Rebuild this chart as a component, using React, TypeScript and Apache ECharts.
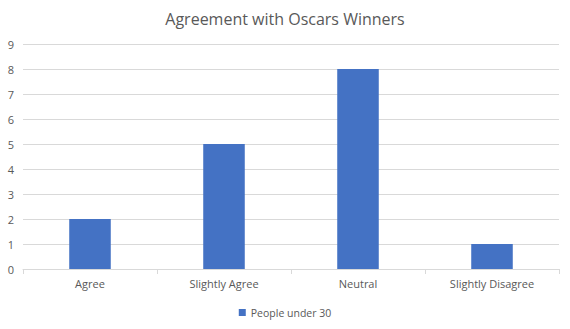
import React, { useEffect, useRef } from "react";
import * as echarts from "echarts";

const categories = ["Agree", "Slightly Agree", "Neutral", "Slightly Disagree"];
const peopleUnder30 = [2, 5, 8, 1];
const seriesName = "People under 30";
const titleText = "Agreement with Oscars Winners";

export default function App() {
  const ref = useRef<HTMLDivElement>(null);
  useEffect(() => {
    if (!ref.current) return;
    const chart = echarts.init(ref.current, null, { renderer: "svg" });
    const font = "Open Sans, Noto Sans, sans-serif";
    chart.setOption({
      animation: false,
      backgroundColor: "#ffffff",
      title: {
        text: titleText,
        left: "center",
        top: 6,
        textStyle: { color: "#595959", fontSize: 16, fontWeight: "normal", fontFamily: font },
      },
      legend: {
        bottom: 6,
        left: "center",
        icon: "rect",
        itemWidth: 7,
        itemHeight: 7,
        itemGap: 6,
        textStyle: { color: "#595959", fontSize: 10.5, fontFamily: font },
        data: [seriesName],
      },
      grid: { left: 23, right: 11, top: 44, bottom: 60, containLabel: false },
      xAxis: {
        type: "category",
        data: categories,
        axisLine: { lineStyle: { color: "#d9d9d9" } },
        axisTick: { show: true, length: 5, lineStyle: { color: "#d9d9d9" } },
        axisLabel: { color: "#595959", fontSize: 11, fontFamily: font, margin: 9 },
      },
      yAxis: {
        type: "value",
        min: 0,
        max: 9,
        interval: 1,
        axisLine: { show: false },
        axisTick: { show: false },
        splitLine: { lineStyle: { color: "#d9d9d9" } },
        axisLabel: { color: "#595959", fontSize: 11, fontFamily: font, margin: 9 },
      },
      series: [
        {
          name: seriesName,
          type: "bar",
          data: peopleUnder30,
          barWidth: "31%",
          itemStyle: { color: "#4472C4" },
        },
      ],
    });
    return () => chart.dispose();
  }, []);
  return (
    <div
      ref={ref}
      style={{ position: "fixed", left: 0, top: 0, width: 570, height: 329 }}
    />
  );
}
